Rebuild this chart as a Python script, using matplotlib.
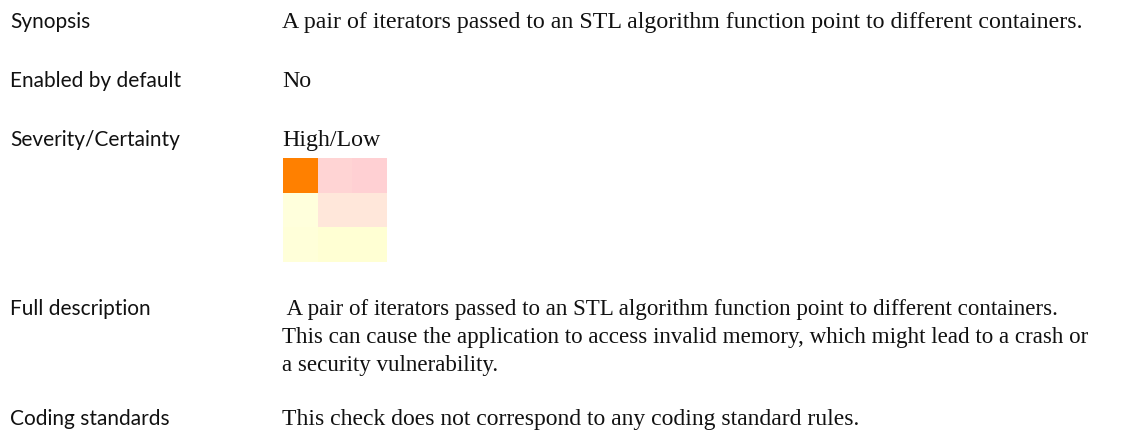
import matplotlib
matplotlib.use("Agg")
import matplotlib.pyplot as plt
import numpy as np
from matplotlib.colors import ListedColormap

W, H = 1125, 438
labels = ["Synopsis", "Enabled by default", "Severity/Certainty", "Full description", "Coding standards"]
label_baseline = [28, 87, 146, 315, 425]
values = [
    ["A pair of iterators passed to an STL algorithm function point to different containers."],
    ["No"],
    ["High/Low"],
    [" A pair of iterators passed to an STL algorithm function point to different containers.",
     "This can cause the application to access invalid memory, which might lead to a crash or",
     "a security vulnerability."],
    ["This check does not correspond to any coding standard rules."],
]
value_sizes = [17.2, 17.2, 17.2, 16.6, 17.0]
line_gap = 28

# severity/certainty grid (cell category index)
grid = np.array([[0, 1, 2],
                 [3, 4, 4],
                 [5, 6, 6]])
cell_colors = ["#FF8000", "#FFD4D4", "#FFD0D3", "#FFFFDC", "#FFE7DA", "#FFFFD9", "#FFFFD3"]

fig = plt.figure(figsize=(W / 100, H / 100), dpi=100)
fig.patch.set_facecolor("white")

def fx(x):
    return x / W

def fy(y):
    return 1 - y / H

for lab, y, vals, fs in zip(labels, label_baseline, values, value_sizes):
    fig.text(fx(10), fy(y), lab, family="Lato", fontsize=15, va="baseline", ha="left", color="#111111")
    for i, v in enumerate(vals):
        fig.text(fx(282), fy(y + i * line_gap), v, family="Liberation Serif", fontsize=fs,
                 va="baseline", ha="left", color="#111111")

ax = fig.add_axes([fx(283), fy(262), fx(387 - 283), (262 - 158) / H])
ax.imshow(grid, cmap=ListedColormap(cell_colors), vmin=-0.5, vmax=len(cell_colors) - 0.5,
          interpolation="nearest", aspect="auto")
ax.set_axis_off()

fig.savefig("out.png", dpi=100, facecolor="white")
